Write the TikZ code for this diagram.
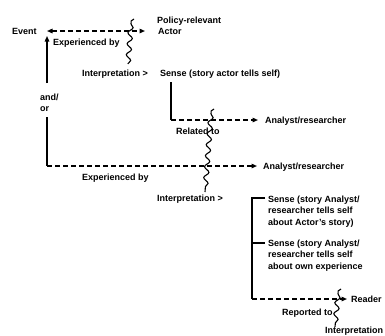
\documentclass[tikz,border=0pt]{standalone}
\usepackage{fontspec}
\setmainfont{Liberation Sans}
\usetikzlibrary{arrows.meta,decorations.pathmorphing}
\begin{document}
\begin{tikzpicture}[x=1pt,y=-1pt,
  lbl/.style={inner sep=0pt, anchor=west, text height=6.5pt, text depth=0pt, font=\fontsize{9}{11.5}\selectfont\bfseries},
  para/.style={inner sep=0pt, anchor=north west, align=left, font=\fontsize{9}{11.5}\selectfont\bfseries},
  solidln/.style={line width=1.3pt},
  dashln/.style={line width=1.3pt, dash pattern=on 5pt off 3pt},
  tip/.style={-{Triangle[length=5.5pt,width=4.5pt]}},
  squiggle/.style={line width=1.1pt, decorate, decoration={snake, segment length=11pt, amplitude=2.4pt}},
  hook/.style={line width=1.1pt}]
\useasboundingbox (0,0) rectangle (385,335);

% texts
\node[lbl] (event) at (12,31) {Event};
\node[lbl] (policy) at (157,20) {Policy-relevant};
\node[lbl] (actor) at (158,31) {Actor};
\node[lbl] (exp1) at (53,42) {Experienced by};
\node[lbl] (interp1) at (82,73) {Interpretation >};
\node[lbl] (sense1) at (160,73) {Sense (story actor tells self)};
\node[para] (andor) at (40,93.5) {and/\\or};
\node[lbl] (ar1) at (265,120) {Analyst/researcher};
\node[lbl] (rel) at (176,131) {Related to};
\node[lbl] (ar2) at (263,166) {Analyst/researcher};
\node[lbl] (exp2) at (82,177) {Experienced by};
\node[lbl] (interp2) at (157,198) {Interpretation >};
\node[para] (sa) at (268,195.5) {Sense (story Analyst/\\researcher tells self\\about Actor's story)};
\node[para] (sb) at (268,239.5) {Sense (story Analyst/\\researcher tells self\\about own experience};
\node[lbl] (reader) at (351,299) {Reader};
\node[lbl] (rep) at (282,312) {Reported to};
\node[lbl] (interp3) at (325,330) {Interpretation};

% coordinates
\coordinate (eva) at (47,31);
\coordinate (evb) at (145,31);
\coordinate (upTip) at (47,36);
\coordinate (upBot) at (47,83);
\coordinate (loTop) at (47,117);
\coordinate (loCorner) at (47,166);
\coordinate (loEnd) at (257,166);
\coordinate (sTop) at (171,82);
\coordinate (sCorner) at (171,120);
\coordinate (sEnd) at (258,120);
\coordinate (bTop) at (265,198);
\coordinate (bTopL) at (252,198);
\coordinate (bTick) at (252,243);
\coordinate (bTickR) at (265,243);
\coordinate (bCorner) at (252,299);
\coordinate (bEnd) at (347,299);

% connectors
\draw[dashln, {Triangle[length=5.5pt,width=4.5pt]}-{Triangle[length=5.5pt,width=4.5pt]}] (eva) -- (evb);
\draw[solidln, tip] (upBot) -- (upTip);
\draw[solidln] (loTop) -- (loCorner);
\draw[dashln, tip] (loCorner) -- (loEnd);
\draw[solidln] (sTop) -- (sCorner);
\draw[dashln, tip] (sCorner) -- (sEnd);
\draw[solidln] (bTop) -- (bTopL) -- (bCorner);
\draw[solidln] (bTick) -- (bTickR);
\draw[dashln, tip] (bCorner) -- (bEnd);

% squiggles
\coordinate (w1a) at (131,24);
\coordinate (w1b) at (128,64);
\draw[hook] (134,19) .. controls (131,19.5) and (130.5,22) .. (w1a);
\draw[squiggle] (w1a) -- (w1b);
\coordinate (w2a) at (211,114);
\coordinate (w2b) at (205,192);
\draw[hook] (214,109) .. controls (211,109.5) and (210.5,112) .. (w2a);
\draw[squiggle] (w2a) -- (w2b);
\coordinate (w3a) at (338,294);
\coordinate (w3b) at (335,327);
\draw[hook] (341,289) .. controls (338,289.5) and (337.5,292) .. (w3a);
\draw[squiggle] (w3a) -- (w3b);
\end{tikzpicture}
\end{document}
